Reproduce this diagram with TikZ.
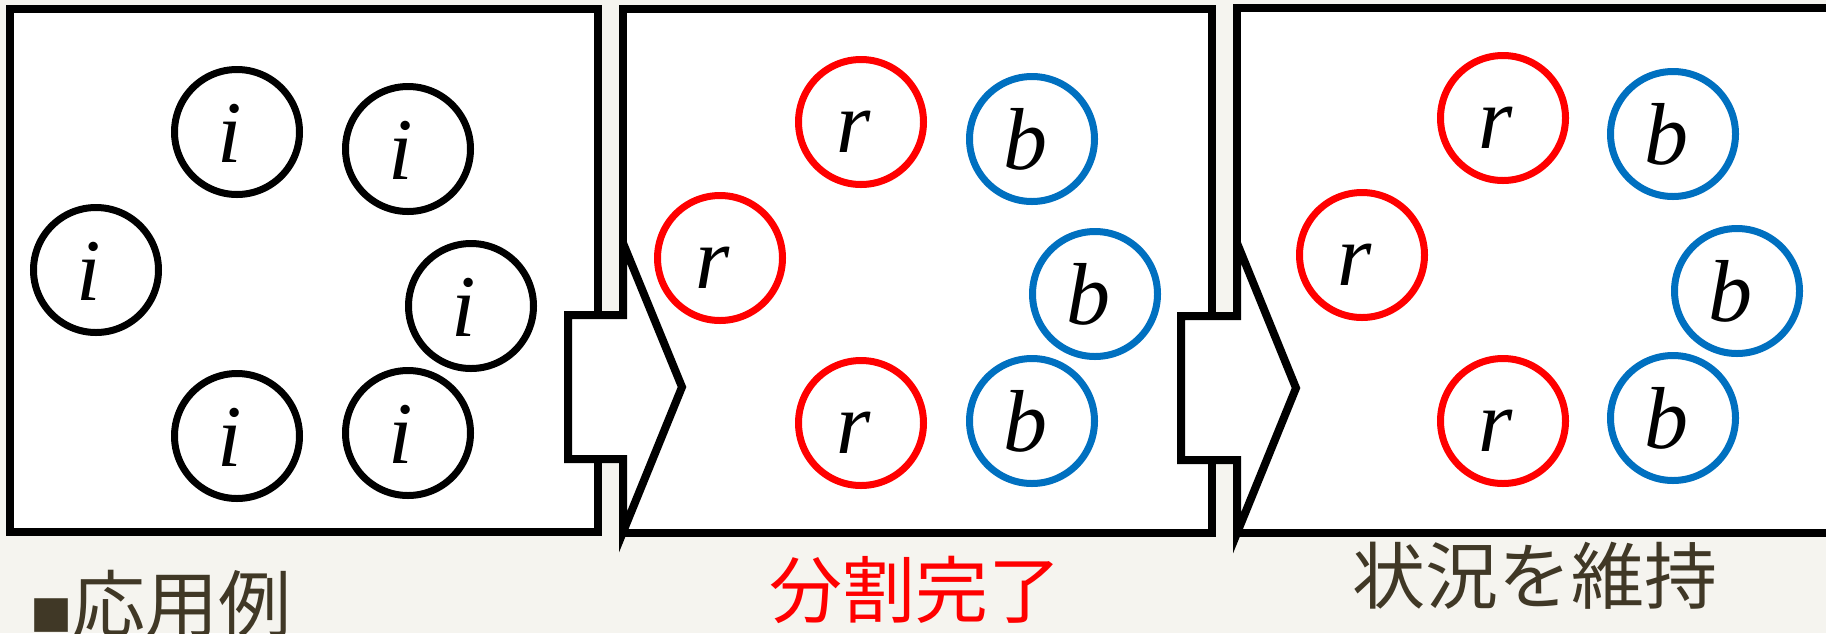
\documentclass[tikz,border=0pt]{standalone}
\usepackage{fontspec}
\setmainfont{Liberation Serif}
\newfontfamily\cjk{Noto Sans CJK JP}
\definecolor{bgcol}{RGB}{245,244,239}
\definecolor{txtbrown}{RGB}{64,56,38}
\definecolor{cred}{RGB}{255,0,0}
\definecolor{cblue}{RGB}{0,112,192}
\newcommand{\lt}[1]{\kern-14pt\relax #1}
\begin{document}
\begin{tikzpicture}[x=1pt,y=-1pt,
  panel/.style={draw=black,fill=white,line width=8pt},
  bigarrow/.style={draw=black,fill=white,line width=8pt},
  ball/.style={circle,draw,line width=7pt,minimum size=125pt,inner sep=0pt,
    text height=60pt,text depth=0pt,font=\fontsize{88}{88}\selectfont\itshape,text=black},
  iball/.style={ball,draw=black},
  rball/.style={ball,draw=cred},
  bball/.style={ball,draw=cblue},
  caption/.style={inner sep=0pt,font=\cjk\fontsize{73}{73}\selectfont}
]
\useasboundingbox (0,0) rectangle (1826,633);
\fill[bgcol] (0,0) rectangle (1826,633);

% panels
\draw[panel] (10,9) rectangle (598,532);
\draw[panel] (623,9) rectangle (1212,533);
\draw[panel] (1237,8) rectangle (1832,533);

% arrows
\draw[bigarrow] (568,315) -- (623,315) -- (623,243) -- (682,387) -- (623,532) -- (623,459) -- (568,459) -- cycle;
\draw[bigarrow] (1181,316) -- (1237,316) -- (1237,243) -- (1296,388) -- (1237,533) -- (1237,460) -- (1181,460) -- cycle;

% panel 1
\node[iball] (i1) at (237,132) {\lt{i}};
\node[iball] (i2) at (408,149) {\lt{i}};
\node[iball] (i3) at (96,270) {\lt{i}};
\node[iball] (i4) at (471,306) {\lt{i}};
\node[iball] (i5) at (237,436) {\lt{i}};
\node[iball] (i6) at (408,433) {\lt{i}};

% panel 2
\node[rball] (r1) at (861,122) {\lt{r}};
\node[bball] (b1) at (1032,139) {\lt{b}};
\node[rball] (r2) at (720,258) {\lt{r}};
\node[bball] (b2) at (1095,294) {\lt{b}};
\node[rball] (r3) at (861,423) {\lt{r}};
\node[bball] (b3) at (1032,421) {\lt{b}};

% panel 3
\node[rball] (r4) at (1503,118) {\lt{r}};
\node[bball] (b4) at (1673,134) {\lt{b}};
\node[rball] (r5) at (1362,255) {\lt{r}};
\node[bball] (b5) at (1737,291) {\lt{b}};
\node[rball] (r6) at (1503,421) {\lt{r}};
\node[bball] (b6) at (1673,418) {\lt{b}};

% captions
\node[caption,text=txtbrown,anchor=base west] (lbl1) at (30,631) {{\fontsize{42}{42}\selectfont ■}応用例};
\node[caption,text=cred,anchor=base] (lbl2) at (915,617) {分割完了};
\node[caption,text=txtbrown,anchor=base] (lbl3) at (1535,603) {状況を維持};
\end{tikzpicture}
\end{document}
